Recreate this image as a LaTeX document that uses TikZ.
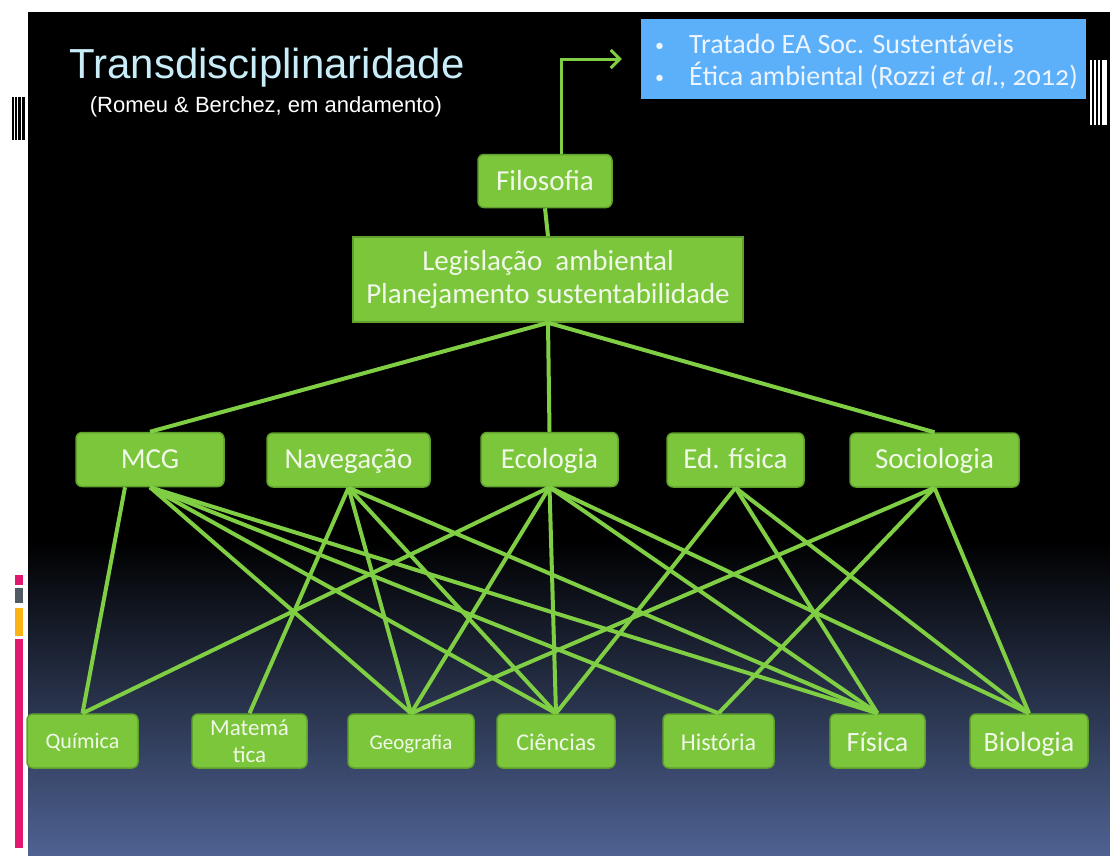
\documentclass[tikz,border=0pt]{standalone}
\usepackage{fontspec}
\setmainfont{Carlito}
\newfontfamily\arialfont{Liberation Sans}
\usetikzlibrary{arrows.meta}
\definecolor{boxgreen}{RGB}{124,198,60}
\definecolor{boxedge}{RGB}{96,160,44}
\definecolor{linegreen}{RGB}{128,206,68}
\definecolor{boxtext}{RGB}{240,248,232}
\definecolor{skyblue}{RGB}{92,176,250}
\definecolor{bluetext}{RGB}{236,244,255}
\definecolor{titleblue}{RGB}{200,236,248}
\definecolor{slidebottom}{RGB}{78,98,146}
\definecolor{stripemag}{RGB}{226,24,112}
\definecolor{stripegray}{RGB}{80,90,100}
\definecolor{stripeyel}{RGB}{252,180,20}
\begin{document}
\begin{tikzpicture}[x=1pt,y=-1pt,
  gbox/.style={draw=boxedge, line width=1.5pt, fill=boxgreen, rounded corners=6pt,
               text=boxtext, align=center, inner sep=0pt},
  oneline/.style={text height=#1, text depth=2pt},
  toprow/.style={gbox, oneline=19pt, minimum height=54pt, font=\fontsize{29}{31}\selectfont},
  botrow/.style={gbox, minimum height=54pt},
  link/.style={draw=linegreen, line width=4pt},
  bluetxt/.style={anchor=base west, text=bluetext, inner sep=0pt, font=\fontsize{28}{30}\selectfont},
  bullet/.style={anchor=base west, text=bluetext, inner sep=0pt, font=\fontsize{18}{20}\selectfont},
]
\useasboundingbox (0,0) rectangle (1110,855);
\fill[white] (0,0) rectangle (1110,855);
\fill[black] (28,12) rectangle (1110,855);
\shade[top color=black, bottom color=slidebottom] (28,540) rectangle (1110,855);
% left decoration
\fill[stripemag] (15,575) rectangle (23,585);
\fill[stripegray] (15,588) rectangle (23,603);
\fill[stripeyel] (15,608) rectangle (23,636);
\fill[stripemag] (15,639) rectangle (23,848);
\foreach \xa/\xb in {12/13.5,15/17,18/21,22/25}
  \fill[black] (\xa,97) rectangle (\xb,140);
\foreach \xa/\xb in {1090/1092,1094/1096,1098/1100,1102/1107}
  \fill[white] (\xa,60) rectangle (\xb,125);

% title
\node[anchor=base, text=titleblue, inner sep=0pt, font=\arialfont\fontsize{42}{44}\selectfont] (title) at (267,78) {Transdisciplinaridade};
\node[anchor=base, text=white, inner sep=0pt, font=\arialfont\fontsize{22}{24}\selectfont] (subtitle) at (266,112) {(Romeu \& Berchez, em andamento)};

% blue box
\node[fill=skyblue, minimum width=445pt, minimum height=80pt, inner sep=0pt] (blue) at (863.5,59) {};
\node[bullet] (b1) at (655,51) {\textbullet};
\node[bluetxt] (t1) at (689,53) {Tratado EA Soc. Sustentáveis};
\node[bullet] (b2) at (655,83) {\textbullet};
\node[bluetxt] (t2) at (689,85) {Ética ambiental (Rozzi \textit{et al}., {\addfontfeatures{Numbers=OldStyle}2012})};

% upper nodes
\node[gbox, oneline=20pt, minimum width=134pt, minimum height=53pt, font=\fontsize{29}{31}\selectfont] (filo) at (545,181) {Filosofia};
\node[gbox, rounded corners=0pt, minimum width=390pt, minimum height=85pt, font=\fontsize{29}{33}\selectfont] (legis) at (548,279.5) {Legislação\ \ ambiental\\Planejamento sustentabilidade};

% middle row
\node[toprow, minimum width=148pt] (mcg) at (150,459.5) {MCG};
\node[toprow, minimum width=163pt] (nav) at (348.5,460) {Navegação};
\node[toprow, minimum width=137pt] (eco) at (549.5,459.5) {Ecologia};
\node[toprow, minimum width=137pt] (edf) at (735.5,460) {Ed. física};
\node[toprow, minimum width=169pt] (soc) at (934.5,460) {Sociologia};

% bottom row
\node[botrow, oneline=16pt, minimum width=111pt, font=\fontsize{22}{24}\selectfont] (qui) at (82.5,741) {Química};
\node[botrow, minimum width=115pt, font=\fontsize{23}{27}\selectfont] (mat) at (249.5,741) {Matemá\\tica};
\node[botrow, oneline=18pt, minimum width=126pt, font=\fontsize{21}{23}\selectfont] (geo) at (411,741) {Geografia};
\node[botrow, oneline=20pt, minimum width=118pt, font=\fontsize{24}{26}\selectfont] (cie) at (556,741) {Ciências};
\node[botrow, oneline=20pt, minimum width=111pt, font=\fontsize{24}{26}\selectfont] (his) at (718.5,741) {História};
\node[botrow, oneline=22pt, minimum width=95pt, font=\fontsize{28}{30}\selectfont] (fis) at (877.5,741) {Física};
\node[botrow, oneline=22pt, minimum width=118pt, font=\fontsize{28}{30}\selectfont] (bio) at (1029,741) {Biologia};

% connectors
\draw[link, line width=3pt, -{Straight Barb[length=9pt,width=18pt]}] ([xshift=16pt]filo.north) |- ([xshift=-19pt]blue.west);
\draw[link] (filo.south) -- (legis.north);
\foreach \b in {mcg,eco,soc}
  \draw[link] (legis.south) -- (\b.north);
\draw[link] ([xshift=-25pt]mcg.south) -- (qui.north);
\foreach \a/\b in {mcg/geo, mcg/cie, mcg/his, mcg/fis,
                   nav/mat, nav/geo, nav/cie, nav/fis,
                   eco/qui, eco/geo, eco/cie, eco/fis, eco/bio,
                   edf/cie, edf/fis, edf/bio,
                   soc/geo, soc/his, soc/bio}
  \draw[link] (\a.south) -- (\b.north);
\end{tikzpicture}
\end{document}
